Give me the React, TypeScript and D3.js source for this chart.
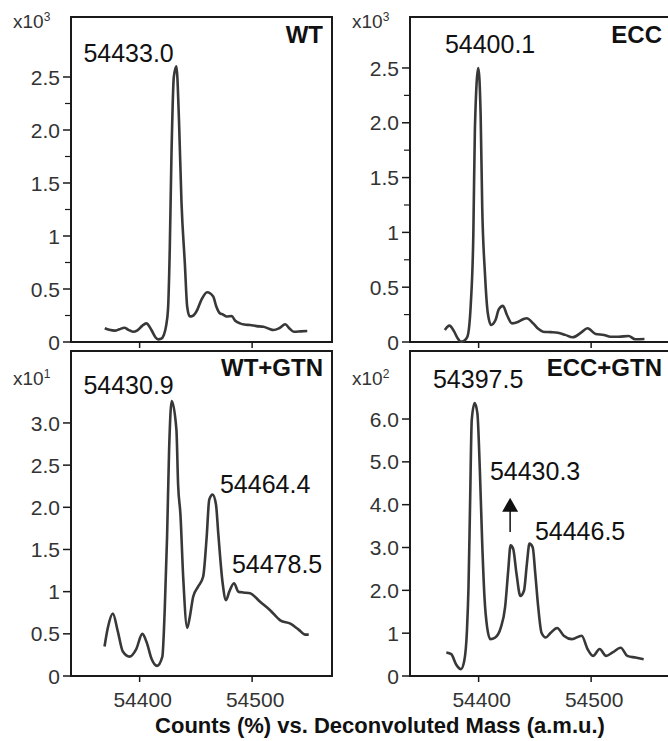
import * as d3 from 'd3'

// Deconvoluted mass (a.m.u.) and counts for each spectrum
const wtMass = [54369, 54373, 54378, 54382, 54386.5, 54390, 54394, 54398, 54402, 54406, 54410.5, 54414, 54416.5, 54419, 54421.5, 54423.5, 54425.3, 54426.8, 54428.3, 54430.4, 54432.7, 54435, 54437.2, 54440.2, 54442.3, 54444.6, 54447, 54450.6, 54455, 54460, 54465.4, 54468, 54471.4, 54474, 54477.4, 54481.8, 54485, 54489.3, 54493, 54498.2, 54504, 54510, 54515, 54519, 54524, 54529.5, 54533, 54537, 54543, 54549]
const wtCounts = [0.13, 0.115, 0.107, 0.12, 0.135, 0.115, 0.097, 0.11, 0.15, 0.176, 0.113, 0.045, 0.025, 0.03, 0.066, 0.15, 0.32, 0.88, 1.76, 2.5, 2.6, 2.09, 1.32, 0.74, 0.33, 0.24, 0.245, 0.29, 0.4, 0.47, 0.43, 0.34, 0.27, 0.26, 0.24, 0.245, 0.2, 0.176, 0.165, 0.16, 0.15, 0.144, 0.125, 0.113, 0.13, 0.167, 0.13, 0.097, 0.1, 0.104]

const eccMass = [54370, 54374, 54378.3, 54381, 54384.2, 54387, 54390, 54393, 54395.3, 54396.7, 54399.7, 54401.8, 54403.2, 54405.6, 54408.2, 54411.1, 54415, 54418, 54421.6, 54425.2, 54429.6, 54435.4, 54440, 54442.7, 54448.5, 54453, 54457.3, 54464, 54470.4, 54477, 54483.6, 54491, 54496.8, 54504, 54511.4, 54517.3, 54524.6, 54533.3, 54539.2, 54547.4]
const eccCounts = [0.11, 0.149, 0.094, 0.04, 0.003, 0.01, 0.048, 0.34, 0.98, 1.95, 2.5, 2.07, 1.23, 0.63, 0.26, 0.155, 0.2, 0.3, 0.33, 0.246, 0.17, 0.185, 0.21, 0.216, 0.17, 0.12, 0.094, 0.09, 0.085, 0.065, 0.043, 0.085, 0.125, 0.073, 0.064, 0.048, 0.048, 0.055, 0.025, 0.027]

const wtGtnMass = [54368.8, 54371.7, 54376.2, 54380.6, 54385.1, 54391, 54397, 54402.4, 54406.5, 54410.4, 54415.5, 54420.2, 54422.3, 54424.4, 54426.2, 54428.5, 54432.7, 54434.2, 54436.3, 54438.7, 54442.3, 54444.6, 54447.6, 54452, 54456.5, 54459.5, 54461.9, 54464.9, 54467.9, 54469.9, 54473.8, 54476.8, 54479.7, 54483.9, 54487.8, 54492.2, 54498.2, 54507.1, 54516, 54525, 54534, 54541.3, 54547.3, 54550.3]
const wtGtnCounts = [0.35, 0.57, 0.74, 0.53, 0.29, 0.23, 0.32, 0.5, 0.39, 0.21, 0.12, 0.23, 0.78, 1.65, 2.68, 3.26, 2.92, 2.27, 1.91, 1.18, 0.57, 0.7, 0.94, 1.06, 1.18, 1.63, 2.09, 2.15, 2.03, 1.69, 1.1, 0.9, 1.0, 1.1, 1.0, 0.99, 0.98, 0.88, 0.78, 0.66, 0.62, 0.55, 0.49, 0.49]

const eccGtnMass = [54371.3, 54375.7, 54380, 54384.3, 54387.2, 54389.6, 54391, 54392.4, 54393.9, 54396.5, 54398.9, 54401.1, 54403.2, 54405.2, 54407.6, 54410.4, 54414.8, 54419.7, 54423.5, 54426.3, 54428.4, 54430.7, 54433.7, 54437.1, 54440.3, 54442.9, 54445.2, 54448.1, 54450.4, 54453, 54455.9, 54459.7, 54464.1, 54469.8, 54475.7, 54482.9, 54491.6, 54496.8, 54501.7, 54507.6, 54513.3, 54519.1, 54526.3, 54532.2, 54539.4, 54546.7]
const eccGtnCounts = [0.55, 0.51, 0.27, 0.16, 0.35, 1.05, 2.07, 4.02, 5.98, 6.37, 6.13, 4.8, 3.09, 1.84, 1.13, 0.86, 0.9, 1.13, 1.6, 2.46, 3.05, 2.97, 2.38, 1.87, 1.99, 2.62, 3.09, 3.0, 2.38, 1.6, 1.01, 0.9, 1.01, 1.12, 0.94, 0.86, 0.94, 0.63, 0.47, 0.63, 0.47, 0.55, 0.66, 0.47, 0.43, 0.39]

const massDomain = [54339, 54571]
const massTicks = [54400, 54500]

const topTicks = [0, 0.5, 1, 1.5, 2, 2.5]
const topTickLabels = ['0', '0.5', '1', '1.5', '2.0', '2.5']
const topMinorTicks = [0.25, 0.75, 1.25, 1.75, 2.25]
const wtGtnTicks = [0, 0.5, 1, 1.5, 2, 2.5, 3]
const wtGtnTickLabels = ['0', '0.5', '1', '1.5', '2.0', '2.5', '3.0']
const eccGtnTicks = [0, 1, 2, 3, 4, 5, 6]
const eccGtnTickLabels = ['0', '1', '2.0', '3.0', '4.0', '5.0', '6.0']

// peak labels: anchored (text start) at [mass, count]
const wtPeaks = [{ text: '54433.0', mass: 54350, value: 2.64 }]
const eccPeaks = [{ text: '54400.1', mass: 54370, value: 2.64 }]
const wtGtnPeaks = [
  { text: '54430.9', mass: 54350, value: 3.34 },
  { text: '54464.4', mass: 54471.4, value: 2.17 },
  { text: '54478.5', mass: 54482, value: 1.22 },
]
const eccGtnPeaks = [
  { text: '54397.5', mass: 54359.4, value: 6.72 },
  { text: '54430.3', mass: 54410, value: 4.58 },
  { text: '54446.5', mass: 54450, value: 3.18 },
]
// arrow pointing up above the 54430.3 peak
const eccGtnArrow = { mass: 54428, from: 3.36, to: 4.16 }

const W = 668
const H = 741
const PANEL_W = 261
const COL_X = [71, 410]
const ROWS = [{ top: 17, bottom: 342 }, { top: 351, bottom: 676 }]
const FONT = 'Arial, "Liberation Sans", Helvetica, sans-serif'

const panels = [
  { title: 'WT', col: 0, row: 0, mass: wtMass, counts: wtCounts, yMax: 3.066, ticks: topTicks, labels: topTickLabels, minor: topMinorTicks, exp: '3', peaks: wtPeaks, xLabels: false },
  { title: 'ECC', col: 1, row: 0, mass: eccMass, counts: eccCounts, yMax: 2.965, ticks: topTicks, labels: topTickLabels, minor: topMinorTicks, exp: '3', peaks: eccPeaks, xLabels: false },
  { title: 'WT+GTN', col: 0, row: 1, mass: wtGtnMass, counts: wtGtnCounts, yMax: 3.853, ticks: wtGtnTicks, labels: wtGtnTickLabels, minor: [], exp: '1', peaks: wtGtnPeaks, xLabels: true },
  { title: 'ECC+GTN', col: 1, row: 1, mass: eccGtnMass, counts: eccGtnCounts, yMax: 7.588, ticks: eccGtnTicks, labels: eccGtnTickLabels, minor: [], exp: '2', peaks: eccGtnPeaks, xLabels: true, arrow: eccGtnArrow },
]

function Panel({ p }) {
  const x0 = COL_X[p.col]
  const { top, bottom } = ROWS[p.row]
  const x = d3.scaleLinear().domain(massDomain).range([x0, x0 + PANEL_W])
  const y = d3.scaleLinear().domain([0, p.yMax]).range([bottom, top])
  const pts = p.mass.map((m, i) => [m, p.counts[i]])
  const line = d3.line()
    .x(d => x(d[0]))
    .y(d => y(d[1]))
    .curve(d3.curveMonotoneX)

  return (
    <g>
      <rect x={x0} y={top} width={PANEL_W} height={bottom - top} fill="none" stroke="#1a1a1a" strokeWidth={2} />

      {/* y axis */}
      {p.ticks.map((t, i) => (
        <g key={`yt-${t}`}>
          <line x1={x0 - 8} x2={x0} y1={y(t)} y2={y(t)} stroke="#1a1a1a" strokeWidth={1.5} />
          <text x={x0 - 11} y={y(t)} dy="0.36em" textAnchor="end" fontSize={21} fill="#333">{p.labels[i]}</text>
        </g>
      ))}
      {p.minor.map(t => (
        <line key={`ym-${t}`} x1={x0 - 6} x2={x0} y1={y(t)} y2={y(t)} stroke="#1a1a1a" strokeWidth={1.2} />
      ))}
      <text x={x0 - 58} y={p.row === 0 ? top + 11 : top + 34} fontSize={19} fill="#333">
        x10<tspan fontSize={12} dy={-7}>{p.exp}</tspan>
      </text>

      {/* x axis */}
      {massTicks.map(t => (
        <g key={`xt-${t}`}>
          <line x1={x(t)} x2={x(t)} y1={bottom} y2={bottom + 6} stroke="#1a1a1a" strokeWidth={1.5} />
          {p.xLabels && (
            <text x={x(t) + 3} y={bottom + 31} textAnchor="middle" fontSize={21} fill="#333">{t}</text>
          )}
        </g>
      ))}

      <path d={line(pts)} fill="none" stroke="#383838" strokeWidth={2.6} strokeLinejoin="round" />

      <text x={x0 + PANEL_W - 9} y={p.row === 0 ? top + 26 : top + 25} textAnchor="end" fontSize={24} fontWeight="bold" fill="#111">{p.title}</text>

      {p.peaks.map(pk => (
        <text key={pk.text} x={x(pk.mass)} y={y(pk.value)} fontSize={25} fill="#111">{pk.text}</text>
      ))}

      {p.arrow && (
        <g>
          <line x1={x(p.arrow.mass)} x2={x(p.arrow.mass)} y1={y(p.arrow.from)} y2={y(p.arrow.to) + 12} stroke="#111" strokeWidth={1.5} />
          <path
            d={`M${x(p.arrow.mass)},${y(p.arrow.to)} L${x(p.arrow.mass) - 8},${y(p.arrow.to) + 14} L${x(p.arrow.mass) + 8},${y(p.arrow.to) + 14} Z`}
            fill="#111"
          />
        </g>
      )}
    </g>
  )
}

export default function App() {
  return (
    <svg width={W} height={H} style={{ position: 'absolute', left: 0, top: 0, background: '#fff' }} fontFamily={FONT}>
      <rect width={W} height={H} fill="#fff" />
      {panels.map(p => <Panel key={p.title} p={p} />)}
      <text x={380} y={733} textAnchor="middle" fontSize={22} fontWeight="bold" fill="#111">
        Counts (%) vs. Deconvoluted Mass (a.m.u.)
      </text>
    </svg>
  )
}
